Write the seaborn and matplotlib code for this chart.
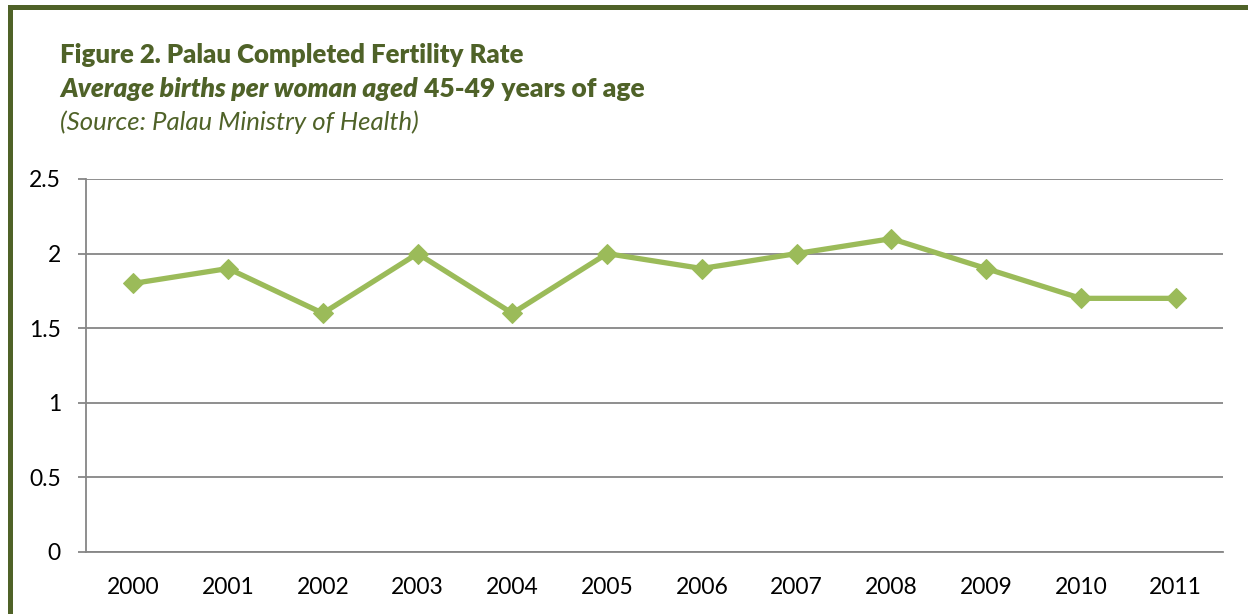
import numpy as np
import pandas as pd
import matplotlib
matplotlib.use("Agg")
import matplotlib.pyplot as plt
import seaborn as sns
from matplotlib.patches import Rectangle

years = [2000, 2001, 2002, 2003, 2004, 2005, 2006, 2007, 2008, 2009, 2010, 2011]
fertility = [1.8, 1.9, 1.6, 2.0, 1.6, 2.0, 1.9, 2.0, 2.1, 1.9, 1.7, 1.7]
y_ticks = [0, 0.5, 1, 1.5, 2, 2.5]
y_labels = ["0", "0.5", "1", "1.5", "2", "2.5"]

df = pd.DataFrame({"Year": years, "Rate": fertility})

sns.set_style("white")
plt.rcParams["font.family"] = ["Lato", "DejaVu Sans"]

olive = "#4F6228"
green = "#9BBB59"
grid = "#868686"

fig = plt.figure(figsize=(12.48, 6.14), dpi=100)
ax = fig.add_axes([0.0689, 0.101, 0.911, 0.6075])

sns.lineplot(data=df, x="Year", y="Rate", ax=ax, color=green, linewidth=3.8,
             marker="D", markersize=10.5, markeredgecolor=green, zorder=3)

ax.set_xlim(1999.5, 2011.5)
ax.set_ylim(0, 2.5)
ax.set_yticks(y_ticks)
ax.set_yticklabels(y_labels)
ax.set_xticks(years)
ax.set_xticklabels([str(y) for y in years])
ax.set_xticks(np.arange(1999.5, 2012, 1.0), minor=True)
ax.tick_params(axis="x", which="major", length=0, labelsize=16.5, pad=18, labelcolor="black")
ax.tick_params(axis="x", which="minor", length=6, width=1.3, color=grid, direction="out")
ax.tick_params(axis="y", length=6, width=1.3, color=grid, labelsize=16.5, pad=12,
               left=True, labelcolor="black")
ax.set_xlabel("")
ax.set_ylabel("")

ax.yaxis.grid(True, color=grid, linewidth=1.3)
ax.xaxis.grid(False)
for side in ["top", "right"]:
    ax.spines[side].set_visible(False)
for side in ["left", "bottom"]:
    ax.spines[side].set_color(grid)
    ax.spines[side].set_linewidth(1.3)

# outer frame
fig.patches.append(Rectangle((10 / 1248, -0.1), 1.2, 1.1 - 7.5 / 614,
                             transform=fig.transFigure, fill=False,
                             edgecolor=olive, linewidth=3.6))

fig.text(60 / 1248, 1 - 55 / 614, "Figure 2. Palau Completed Fertility Rate",
         fontsize=18.5, fontweight="heavy", color=olive, va="center")
t1 = fig.text(60 / 1248, 1 - 89 / 614, "Average births per woman aged",
              fontsize=19, fontweight="heavy", fontstyle="italic", color=olive, va="center")
fig.canvas.draw()
bb = t1.get_window_extent()
fig.text(bb.x1 / fig.bbox.width, 1 - 89 / 614, " 45-49 years of age",
         fontsize=19, fontweight="heavy", color=olive, va="center")
fig.text(60 / 1248, 1 - 122 / 614, "(Source: Palau Ministry of Health)",
         fontsize=18.5, fontstyle="italic", color=olive, va="center")

fig.savefig("out.png", dpi=100)
